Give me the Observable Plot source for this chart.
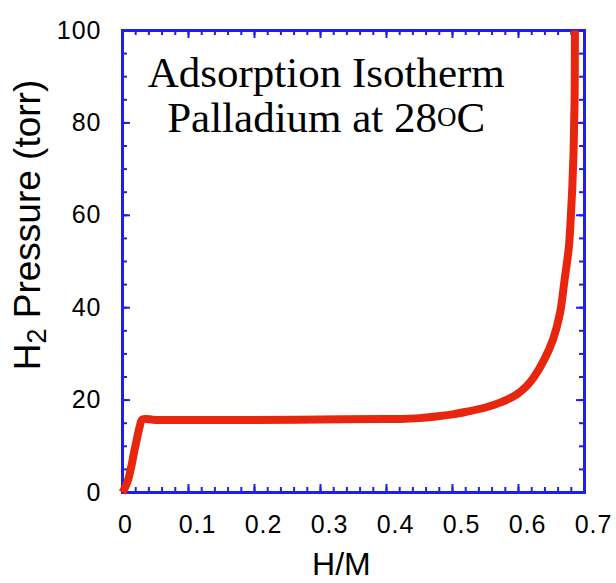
<!DOCTYPE html>
<html><head><meta charset="utf-8">
<script src="https://cdn.jsdelivr.net/npm/d3@7"></script>
<script src="https://cdn.jsdelivr.net/npm/@observablehq/plot@0.6"></script>
<style>
html,body{margin:0;padding:0;background:#fff}
#chart svg{display:block}
#chart svg g[aria-label$="tick label"] text{letter-spacing:1px}
</style></head><body><div id="chart"></div>
<script>
// H/M (hydrogen-to-metal ratio) and H2 pressure (torr)
const hm = [0, 0.008, 0.019, 0.026, 0.030, 0.05, 0.1, 0.2, 0.3, 0.4, 0.421, 0.45, 0.472, 0.5, 0.522, 0.55, 0.573, 0.598, 0.612, 0.623, 0.638, 0.652, 0.6626, 0.6697, 0.6763, 0.679, 0.6815, 0.6835, 0.685, 0.6855];
const pressure = [0, 2.5, 9.7, 14.2, 15.8, 15.7, 15.7, 15.7, 15.8, 15.9, 15.9, 16.1, 16.4, 16.9, 17.5, 18.4, 19.5, 21.3, 23.0, 24.9, 28.5, 33.0, 38.6, 45.9, 53.1, 59, 66, 74, 85, 100];
const xTicks = [0, 0.1, 0.2, 0.3, 0.4, 0.5, 0.6, 0.7];
const yTicks = [0, 20, 40, 60, 80, 100];
const xMinor = d3.range(0, 0.7001, 0.02);
const yMinor = d3.range(0, 100.001, 5);
const titleLine1 = "Adsorption Isotherm";
const titleLine2 = ["Palladium at 28", "O", "C"];
const xLabel = "H/M";
const yLabel = ["H", "2", " Pressure (torr)"];

const W = 616, H = 583, mL = 122, mR = 32, mT = 30, mB = 91;
const fw = W - mL - mR, fh = H - mT - mB;
const blue = "#1e1ef0", red = "#e8260d";
const data = hm.map((x, i) => ({x, p: pressure[i]}));
const sans = "'Liberation Sans', Arial, Helvetica, sans-serif";
const serif = "'Liberation Serif', 'Times New Roman', serif";

const chart = Plot.plot({
  width: W, height: H,
  marginLeft: mL, marginRight: mR, marginTop: mT, marginBottom: mB,
  style: {fontFamily: sans, fontSize: "25px", color: "#000", background: "#fff", overflow: "visible"},
  x: {domain: [0, 0.7]},
  y: {domain: [0, 100]},
  marks: [
    Plot.tickX(xMinor, {x: d => d, stroke: blue, strokeWidth: 2, insetTop: fh - 5}),
    Plot.tickX(xMinor, {x: d => d, stroke: blue, strokeWidth: 2, insetBottom: fh - 5}),
    Plot.tickX(xTicks, {x: d => d, stroke: blue, strokeWidth: 2, insetTop: fh - 8}),
    Plot.tickX(xTicks, {x: d => d, stroke: blue, strokeWidth: 2, insetBottom: fh - 8}),
    Plot.tickY(yMinor, {y: d => d, stroke: blue, strokeWidth: 2, insetRight: fw - 5}),
    Plot.tickY(yMinor, {y: d => d, stroke: blue, strokeWidth: 2, insetLeft: fw - 5}),
    Plot.tickY(yTicks, {y: d => d, stroke: blue, strokeWidth: 2, insetRight: fw - 8}),
    Plot.tickY(yTicks, {y: d => d, stroke: blue, strokeWidth: 2, insetLeft: fw - 8}),
    Plot.frame({stroke: blue, strokeWidth: 3}),
    Plot.axisX([0], {tickSize: 0, tickPadding: 23, dx: 3, tickFormat: d => "0", label: null, fontSize: 25}),
    Plot.axisX(xTicks.slice(1), {tickSize: 0, tickPadding: 23, dx: 9, tickFormat: d => d.toFixed(1), label: null, fontSize: 25}),
    Plot.axisY(yTicks, {tickSize: 0, tickPadding: 21, label: null, fontSize: 25}),
    Plot.line(data, {x: "x", y: "p", stroke: red, strokeWidth: 8, curve: "catmull-rom", strokeLinejoin: "round", strokeLinecap: "butt"})
  ]
});

const svg = d3.select(chart);
const cx = mL + fw * 0.442;

svg.append("text").attr("x", cx).attr("y", 87).attr("text-anchor", "middle")
  .attr("font-family", serif).attr("font-size", 43).attr("fill", "#000").text(titleLine1);
const t2 = svg.append("text").attr("x", cx).attr("y", 132).attr("text-anchor", "middle")
  .attr("font-family", serif).attr("font-size", 43).attr("fill", "#000");
t2.append("tspan").text(titleLine2[0]);
t2.append("tspan").attr("font-size", 27).attr("dy", -6).text(titleLine2[1]);
t2.append("tspan").attr("dy", 6).text(titleLine2[2]);

svg.append("text").attr("x", mL + fw * 0.475).attr("y", 575).attr("text-anchor", "middle")
  .attr("font-family", sans).attr("font-size", 32).attr("fill", "#000").text(xLabel);

const yl = svg.append("text").attr("transform", `translate(40,225) rotate(-90)`).attr("text-anchor", "middle")
  .attr("font-family", sans).attr("font-size", 37).attr("fill", "#000");
yl.append("tspan").text(yLabel[0]);
yl.append("tspan").attr("font-size", 27).attr("dy", 6).text(yLabel[1]);
yl.append("tspan").attr("dy", -6).text(yLabel[2]);

document.getElementById("chart").append(chart);
</script>
</body></html>
